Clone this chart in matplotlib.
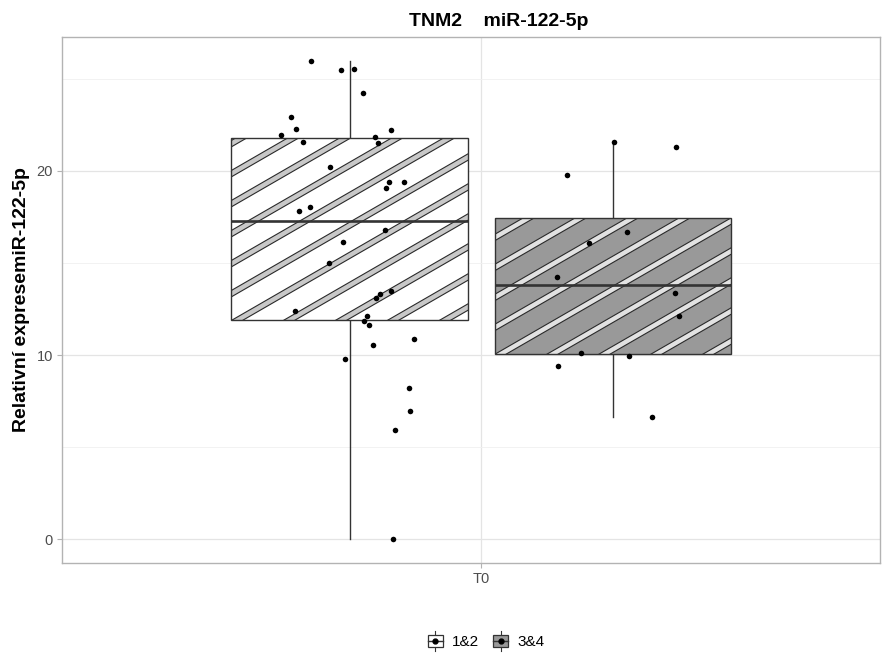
import numpy as np
import matplotlib
matplotlib.use("Agg")
import matplotlib.pyplot as plt
from matplotlib.patches import Polygon, Rectangle, Patch
from matplotlib.lines import Line2D
from matplotlib.legend_handler import HandlerBase
from matplotlib.transforms import IdentityTransform

plt.rcParams['font.family'] = ['Liberation Sans', 'DejaVu Sans']

timepoint = "T0"
groups = ["1&2", "3&4"]

# relative expression values, with their jitter offsets
vals_12 = [0.0, 5.91, 6.95, 8.2, 9.76, 10.53, 10.88, 11.64, 11.85, 12.14,
           12.4, 13.12, 13.33, 13.5, 15.01, 16.14, 16.78, 17.83, 18.05, 19.06,
           19.38, 19.4, 20.22, 21.54, 21.59, 21.83, 21.97, 22.24, 22.3, 22.91,
           24.25, 25.47, 25.53, 25.98]
jit_12 = [0.063, 0.067, 0.088, 0.087, -0.007, 0.034, 0.094, 0.029, 0.021, 0.026,
          -0.080, 0.039, 0.045, 0.060, -0.030, -0.010, 0.052, -0.075, -0.058, 0.054,
          0.079, 0.058, -0.029, 0.042, -0.069, 0.037, -0.100, 0.061, -0.078, -0.086,
          0.020, -0.013, 0.006, -0.057]

vals_34 = [6.63, 9.4, 9.94, 10.12, 12.12, 13.39, 14.24, 16.06, 16.68, 19.8,
           21.3, 21.57]
jit_34 = [0.057, -0.081, 0.024, -0.047, 0.097, 0.091, -0.082, -0.035, 0.021, -0.067,
          0.092, 0.002]

box_fill = ["white", "#999999"]
stripe_fill = ["#c8c8c8", "#e2e2e2"]
dark = "#333333"

fig = plt.figure(figsize=(8.9, 6.55), dpi=100)
ax = fig.add_axes([62 / 890, 92 / 655, 818 / 890, 526 / 655])

dodge = [-0.193, 0.193]
pos = [1 + d for d in dodge]
bw = 0.347

bp = ax.boxplot([vals_12, vals_34], positions=pos, widths=bw, patch_artist=True,
                showcaps=False, showfliers=False, whis=1.5, manage_ticks=False,
                medianprops=dict(color=dark, lw=1.9, zorder=5),
                whiskerprops=dict(color=dark, lw=1.0, zorder=2),
                boxprops=dict(edgecolor="none", lw=0))

ymax = max(max(vals_12), max(vals_34))
ymin = min(min(vals_12), min(vals_34))
pad = (ymax - ymin) * 0.05
ax.set_xlim(0.385, 1.585)
ax.set_ylim(ymin - pad, ymax + pad)

# diagonal stripe pattern inside each box (drawn in pixel space, 30 degrees)
t = np.tan(np.radians(30))
period, half = 30.0, 3.2
for i, patch in enumerate(bp["boxes"]):
    patch.set_facecolor(box_fill[i])
    patch.set_zorder(3)
    v = patch.get_path().vertices
    x0, x1 = v[:, 0].min(), v[:, 0].max()
    y0, y1 = v[:, 1].min(), v[:, 1].max()
    X0, Y0 = ax.transData.transform((x0, y0))
    X1, Y1 = ax.transData.transform((x1, y1))
    base = Y0 - t * X0 - 4
    kmin = int(np.floor((Y0 - t * X1 - base) / period)) - 1
    kmax = int(np.ceil((Y1 - t * X0 - base) / period)) + 1
    for k in range(kmin, kmax + 1):
        b = base + k * period
        xa, xb = X0 - 10, X1 + 10
        pts = [(xa, b - half + t * xa), (xb, b - half + t * xb),
               (xb, b + half + t * xb), (xa, b + half + t * xa)]
        poly = Polygon(pts, closed=True, facecolor=stripe_fill[i], edgecolor="#2a2a2a",
                       lw=0.8, transform=IdentityTransform(), zorder=3.5)
        ax.add_artist(poly)
        poly.set_clip_path(patch)
    ax.add_patch(Rectangle((x0, y0), x1 - x0, y1 - y0, fill=False,
                           edgecolor=dark, lw=1.0, zorder=4))

ax.scatter(np.array(jit_12) + pos[0], vals_12, s=16, color="black", lw=0, zorder=6)
ax.scatter(np.array(jit_34) + pos[1], vals_34, s=16, color="black", lw=0, zorder=6)

ax.set_xticks([1])
ax.set_xticklabels([timepoint])
ax.set_yticks([0, 10, 20])
ax.set_yticks([5, 15, 25], minor=True)
ax.set_axisbelow(True)
ax.grid(which="major", color="#e4e4e4", lw=0.9)
ax.grid(which="minor", axis="y", color="#f0f0f0", lw=0.6)
for s in ax.spines.values():
    s.set_color("#b3b3b3")
    s.set_linewidth(1.0)
ax.tick_params(which="major", color="#b3b3b3", length=3.5, width=0.8,
               labelcolor="#4d4d4d", labelsize=10.5, pad=3)
ax.tick_params(which="minor", length=0)

fig.text(22 / 890, 1 - 300 / 655, "Relativní expresemiR-122-5p", rotation=90,
         ha="center", va="center", fontsize=14, fontweight="bold")
fig.text(499 / 890, 1 - 21 / 655, "TNM2    miR-122-5p", ha="center", va="center",
         fontsize=14, fontweight="bold")


class BoxKey(HandlerBase):
    def create_artists(self, legend, orig_handle, xdescent, ydescent,
                       width, height, fontsize, trans):
        x0, y0 = -xdescent, -ydescent
        cx, cy = x0 + width / 2, y0 + height / 2
        bh = height * 0.62
        whisk = Line2D([cx, cx], [y0, y0 + height], color=dark, lw=0.8, transform=trans)
        rect = Rectangle((x0, cy - bh / 2), width, bh, facecolor=orig_handle.get_facecolor(),
                         edgecolor=dark, lw=0.9, transform=trans)
        med = Line2D([x0, x0 + width], [cy, cy], color=dark, lw=1.0, transform=trans)
        dot = Line2D([cx], [cy], marker="o", ms=3.5, color="black", lw=0, transform=trans)
        return [whisk, rect, med, dot]


handles = [Patch(facecolor=c, edgecolor=dark) for c in box_fill]
fig.legend(handles, groups, handler_map={Patch: BoxKey()}, loc="center",
           bbox_to_anchor=(486 / 890, 1 - 641 / 655), ncol=2, frameon=False,
           fontsize=11, handlelength=1.0, handleheight=1.6, handletextpad=0.6,
           columnspacing=0.9)

fig.savefig("out.png", dpi=100)
